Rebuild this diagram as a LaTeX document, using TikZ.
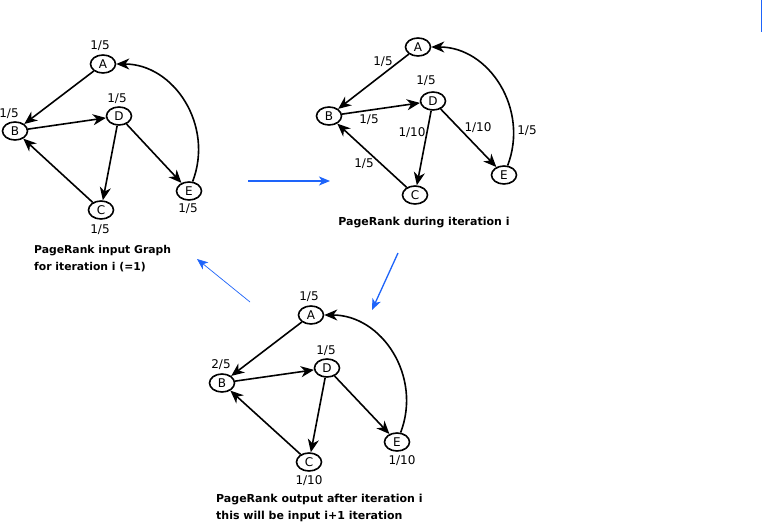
\documentclass[tikz,border=0pt]{standalone}
\usepackage{fontspec}
\setmainfont{DejaVu Sans}
\usetikzlibrary{arrows.meta,shapes.geometric}
\definecolor{arrblue}{RGB}{30,100,250}
\begin{document}
\begin{tikzpicture}[x=1pt,y=-1pt,
  vtx/.style={draw,ellipse,line width=1.6pt,minimum width=25pt,minimum height=18pt,inner sep=0pt,font=\fontsize{12}{13}\selectfont},
  edge/.style={line width=1.6pt,-{Stealth[length=13pt,width=11pt,inset=4pt]}},
  back/.style={edge,out=69,in=0,out looseness=1.1,in looseness=1.05},
  lbl/.style={font=\fontsize{12}{13}\selectfont,inner sep=0pt},
  captxt/.style={font=\fontsize{10.8}{17}\selectfont\bfseries,align=left,anchor=north west,inner sep=0pt},
  bluearrow/.style={draw=arrblue,line width=1.3pt,-{Stealth[length=11pt,width=9pt,inset=3pt]}},
  thinblue/.style={draw=arrblue,line width=0.7pt,-{Stealth[length=11pt,width=9pt,inset=3pt]}}]
\useasboundingbox (0,0) rectangle (763,522);
\fill[white] (0,0) rectangle (763,522);
% stray mark
\draw[arrblue,line width=1pt] (761,0) -- (761,32);

% ---- Graph 1
\node[vtx] (A1) at (103,64) {A};
\node[vtx] (B1) at (15,131) {B};
\node[vtx] (D1) at (119,116) {D};
\node[vtx] (C1) at (101,210) {C};
\node[vtx] (E1) at (189,191) {E};
\draw[edge] (A1) -- (B1);
\draw[edge] (B1) -- (D1);
\draw[edge] (D1) -- (C1);
\draw[edge] (D1) -- (E1);
\draw[edge] (C1) -- (B1);
\draw[back] (E1) to (A1);
\node[lbl] (la1) at (100,46) {1/5};
\node[lbl] (lb1) at (9,114) {1/5};
\node[lbl] (ld1) at (117,99) {1/5};
\node[lbl] (lc1) at (100,230) {1/5};
\node[lbl] (le1) at (188,209) {1/5};
\node[captxt] (cap1) at (34,245) {PageRank input Graph\\for iteration i (=1)};

% ---- Graph 2
\node[vtx] (A2) at (418,47) {A};
\node[vtx] (B2) at (329,116) {B};
\node[vtx] (D2) at (433,101) {D};
\node[vtx] (C2) at (415,195) {C};
\node[vtx] (E2) at (504,175) {E};
\draw[edge] (A2) -- (B2);
\draw[edge] (B2) -- (D2);
\draw[edge] (D2) -- (C2);
\draw[edge] (D2) -- (E2);
\draw[edge] (C2) -- (B2);
\draw[back] (E2) to (A2);
\node[lbl] (l2a) at (383,62) {1/5};
\node[lbl] (l2b) at (426,81) {1/5};
\node[lbl] (l2c) at (369,120) {1/5};
\node[lbl] (l2d) at (412,133) {1/10};
\node[lbl] (l2e) at (478,128) {1/10};
\node[lbl] (l2f) at (527,131) {1/5};
\node[lbl] (l2g) at (364,164) {1/5};
\node[captxt,font=\fontsize{11}{17}\selectfont\bfseries,anchor=center] (cap2) at (424,223) {PageRank during iteration i};

% ---- Graph 3
\node[vtx] (A3) at (311,315) {A};
\node[vtx] (B3) at (222,383) {B};
\node[vtx] (D3) at (327,368) {D};
\node[vtx] (C3) at (309,462) {C};
\node[vtx] (E3) at (397,442) {E};
\draw[edge] (A3) -- (B3);
\draw[edge] (B3) -- (D3);
\draw[edge] (D3) -- (C3);
\draw[edge] (D3) -- (E3);
\draw[edge] (C3) -- (B3);
\draw[back] (E3) to (A3);
\node[lbl] (l3a) at (309,297) {1/5};
\node[lbl] (l3b) at (221,365) {2/5};
\node[lbl] (l3d) at (326,351) {1/5};
\node[lbl] (l3c) at (309,481) {1/10};
\node[lbl] (l3e) at (402,461) {1/10};
\node[captxt,font=\fontsize{11}{17}\selectfont\bfseries] (cap3) at (216,494) {PageRank output after iteration i\\this will be input i+1 iteration};

% ---- blue arrows
\coordinate (p1) at (248,181);
\coordinate (p2) at (330,181);
\coordinate (p3) at (398,253);
\coordinate (p4) at (372,310);
\coordinate (p5) at (250,302);
\coordinate (p6) at (197,259);
\draw[bluearrow] (p1) -- (p2);
\draw[bluearrow] (p3) -- (p4);
\draw[thinblue] (p5) -- (p6);
\end{tikzpicture}
\end{document}
